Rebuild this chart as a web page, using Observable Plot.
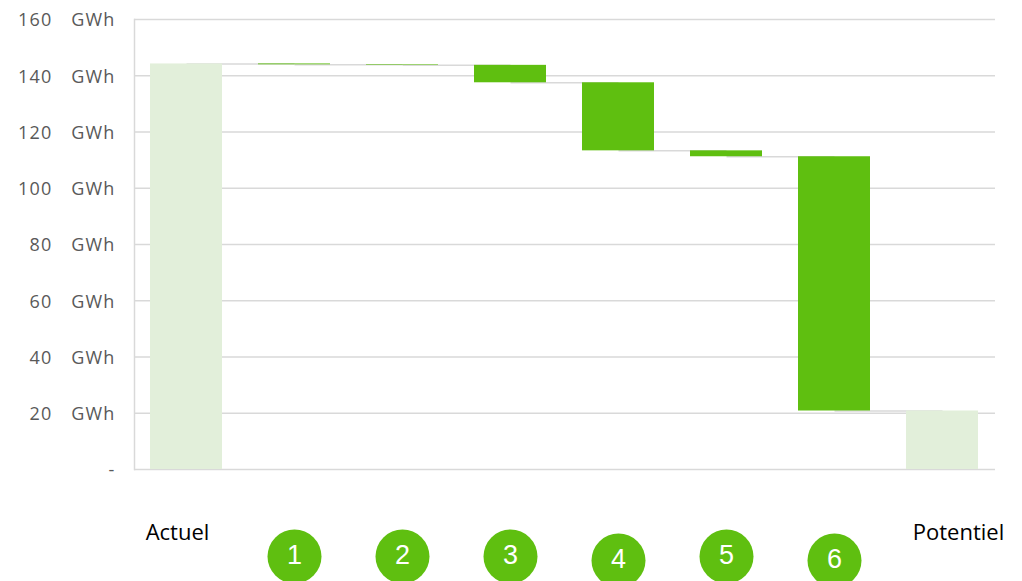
<!DOCTYPE html>
<html><head><meta charset="utf-8">
<script src="https://cdn.jsdelivr.net/npm/d3@7"></script>
<script src="https://cdn.jsdelivr.net/npm/@observablehq/plot@0.6"></script>
<style>body{margin:0;background:#fff} svg text.lsp, .lsp text{letter-spacing:1.2px}</style>
</head><body><div id="chart"></div>
<script>
const categories = ["Actuel", "1", "2", "3", "4", "5", "6", "Potentiel"];
const badgeLabels = ["1", "2", "3", "4", "5", "6"];
const startTotal = 144.2;
const deltas = [-0.3, -0.2, -6.2, -24.2, -2.1, -90.4];
const yTicks = [0, 20, 40, 60, 80, 100, 120, 140, 160];
const unitLabel = "GWh";
const endLabels = ["Actuel", "Potentiel"];

let level = startTotal;
const rows = [{cat: "Actuel", y1: 0, y2: startTotal, kind: "total"}];
deltas.forEach((d, i) => { rows.push({cat: badgeLabels[i], y1: level, y2: level + d, kind: "step"}); level += d; });
rows.push({cat: "Potentiel", y1: 0, y2: level, kind: "total"});
const connectors = rows.slice(0, -1).map((r, i) => ({from: r.cat, to: rows[i + 1].cat, y: r.y2}));

const green = "#5fbf10", light = "#e2efda", grid = "#d9d9d9";
const lowBadges = ["4", "6"];
const highB = badgeLabels.filter(d => !lowBadges.includes(d));
const lowB = badgeLabels.filter(d => lowBadges.includes(d));

const chart = Plot.plot({
  width: 1022, height: 581,
  marginTop: 19, marginBottom: 112, marginLeft: 134, marginRight: 27,
  x: {domain: categories, paddingInner: 0.33, paddingOuter: 0.15, axis: null},
  y: {domain: [0, 160], axis: null},
  style: {background: "white", fontFamily: "Open Sans"},
  marks: [
    Plot.gridY(yTicks.filter(d => d > 0), {stroke: grid, strokeOpacity: 1, strokeWidth: 1.5}),
    Plot.ruleY([0], {stroke: grid, strokeWidth: 1.5}),
    Plot.frame({anchor: "left", stroke: grid, strokeWidth: 1.5}),
    Plot.link(connectors, {x1: "from", x2: "to", y1: "y", y2: "y", stroke: grid, strokeWidth: 1.5}),
    Plot.barY(rows, {x: "cat", y1: "y1", y2: "y2", fill: d => d.kind === "total" ? light : green}),
    Plot.text(yTicks, {y: d => d, frameAnchor: "left", textAnchor: "end", dx: -82, dy: 1, text: d => d === 0 ? "" : String(d), fontSize: 18, fill: "#595959", className: "lsp"}),
    Plot.text(yTicks, {y: d => d, frameAnchor: "left", textAnchor: "end", dx: -19, dy: 1, text: d => d === 0 ? "-" : unitLabel, fontSize: 18, fill: "#595959", className: "lsp"}),
    Plot.text(endLabels.slice(0, 1), {x: d => d, frameAnchor: "bottom", dy: 70, dx: -9, text: d => d, fontSize: 22, fill: "#000"}),
    Plot.text(endLabels.slice(1), {x: d => d, frameAnchor: "bottom", dy: 70, dx: 16, text: d => d, fontSize: 22, fill: "#000"}),
    Plot.dot(highB, {x: d => d, frameAnchor: "bottom", dy: 87, r: 27, fill: green}),
    Plot.dot(lowB, {x: d => d, frameAnchor: "bottom", dy: 91, r: 27, fill: green}),
    Plot.text(highB, {x: d => d, frameAnchor: "bottom", dy: 94, text: d => d, fontSize: 27, fill: "white", fontFamily: "Liberation Sans"}),
    Plot.text(lowB, {x: d => d, frameAnchor: "bottom", dy: 98, text: d => d, fontSize: 27, fill: "white", fontFamily: "Liberation Sans"})
  ]
});
document.getElementById("chart").appendChild(chart);
</script>
</body></html>
